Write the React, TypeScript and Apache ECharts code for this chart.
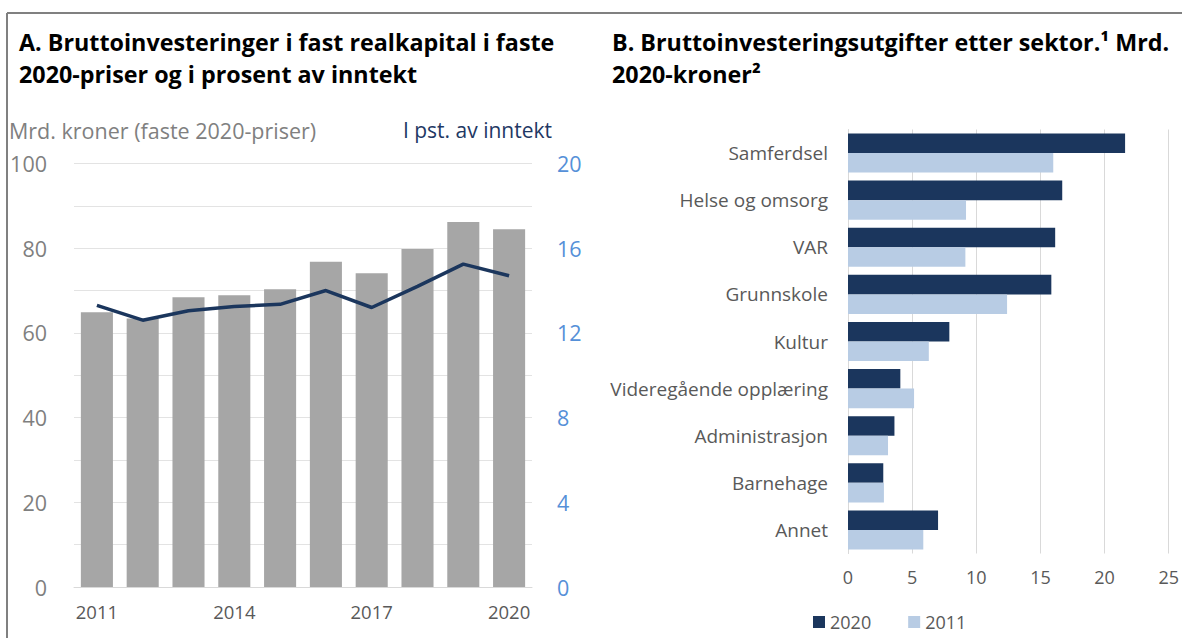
import React, { useEffect, useRef } from "react";
import * as echarts from "echarts";

const years = ["2011", "2012", "2013", "2014", "2015", "2016", "2017", "2018", "2019", "2020"];
const investMrd = [64.9, 63.4, 68.4, 68.9, 70.3, 76.8, 74.1, 79.8, 86.2, 84.5];
const investPct = [13.3, 12.6, 13.05, 13.25, 13.35, 14.0, 13.2, 14.2, 15.25, 14.7];

const sectors = [
  "Samferdsel",
  "Helse og omsorg",
  "VAR",
  "Grunnskole",
  "Kultur",
  "Videregående opplæring",
  "Administrasjon",
  "Barnehage",
  "Annet",
];
const sector2020 = [21.6, 16.7, 16.15, 15.85, 7.9, 4.08, 3.62, 2.75, 7.02];
const sector2011 = [16.0, 9.2, 9.15, 12.4, 6.3, 5.15, 3.12, 2.8, 5.87];

const FONT = "Open Sans";
const NAVY = "#1b365d";
const LIGHT = "#b8cce4";
const GREY_TXT = "#595959";
const TITLE_SIZE = 23.3;

export default function App() {
  const ref = useRef<HTMLDivElement>(null);
  useEffect(() => {
    if (!ref.current) return;
    const chart = echarts.init(ref.current, undefined, { renderer: "svg" });
    chart.setOption({
      animation: false,
      backgroundColor: "#ffffff",
      textStyle: { fontFamily: FONT },
      graphic: [
        { type: "line", shape: { x1: 7, y1: 13, x2: 1182, y2: 13 }, style: { stroke: "#808080", lineWidth: 2 } },
        { type: "line", shape: { x1: 7, y1: 13, x2: 7, y2: 638 }, style: { stroke: "#808080", lineWidth: 2 } },
        {
          type: "text", left: 19, top: 30,
          style: { text: "A. Bruttoinvesteringer i fast realkapital i faste", fontFamily: FONT, fontWeight: "bold", fontSize: TITLE_SIZE, fill: "#000" },
        },
        {
          type: "text", left: 19, top: 62,
          style: { text: "2020-priser og i prosent av inntekt", fontFamily: FONT, fontWeight: "bold", fontSize: TITLE_SIZE, fill: "#000" },
        },
        {
          type: "text", left: 612, top: 30,
          style: { text: "B. Bruttoinvesteringsutgifter etter sektor.¹ Mrd.", fontFamily: FONT, fontWeight: "bold", fontSize: TITLE_SIZE, fill: "#000" },
        },
        {
          type: "text", left: 612, top: 62,
          style: { text: "2020-kroner²", fontFamily: FONT, fontWeight: "bold", fontSize: TITLE_SIZE, fill: "#000" },
        },
        {
          type: "text", left: 9, top: 119,
          style: { text: "Mrd. kroner (faste 2020-priser)", fontFamily: FONT, fontSize: 21.5, fill: "#808080" },
        },
        {
          type: "text", right: 1182 - 552, top: 119,
          style: { text: "I pst. av inntekt", fontFamily: FONT, fontSize: 21, fill: "#1f3864" },
        },
      ],
      grid: [
        { left: 74, top: 163.5, width: 458, height: 423.5 },
        { left: 848, top: 129.5, width: 326.5, height: 424 },
      ],
      legend: {
        data: ["2020", "2011"],
        left: 813,
        top: 613,
        padding: 0,
        icon: "rect",
        itemWidth: 12,
        itemHeight: 12,
        itemGap: 37,
        textStyle: { color: GREY_TXT, fontSize: 18, fontFamily: FONT },
      },
      xAxis: [
        {
          type: "category",
          gridIndex: 0,
          data: years,
          axisTick: { show: false },
          axisLine: { lineStyle: { color: "#d9d9d9" } },
          axisLabel: { interval: 2, color: GREY_TXT, fontSize: 18.5, margin: 15, fontFamily: FONT },
        },
        {
          type: "value",
          gridIndex: 1,
          min: 0,
          max: 25,
          interval: 5,
          axisLine: { show: false },
          axisTick: { show: false },
          splitLine: { lineStyle: { color: "#d9d9d9" } },
          axisLabel: { color: GREY_TXT, fontSize: 18, margin: 14, fontFamily: FONT },
        },
      ],
      yAxis: [
        {
          type: "value",
          gridIndex: 0,
          min: 0,
          max: 100,
          interval: 10,
          axisLine: { show: false },
          axisTick: { show: false },
          splitLine: { lineStyle: { color: "#e3e3e3" } },
          axisLabel: {
            color: "#7f7f7f",
            fontSize: 21.5,
            margin: 27,
            fontFamily: FONT,
            formatter: (v: number) => (v % 20 === 0 ? String(v) : ""),
          },
        },
        {
          type: "value",
          gridIndex: 0,
          position: "right",
          min: 0,
          max: 20,
          interval: 2,
          axisLine: { show: false },
          axisTick: { show: false },
          splitLine: { show: false },
          axisLabel: {
            color: "#5590d8",
            fontSize: 21.5,
            margin: 25,
            fontFamily: FONT,
            formatter: (v: number) => (v % 4 === 0 ? String(v) : ""),
          },
        },
        {
          type: "category",
          gridIndex: 1,
          data: sectors,
          inverse: true,
          axisTick: { show: false },
          axisLine: { lineStyle: { color: "#d9d9d9" } },
          axisLabel: { color: GREY_TXT, fontSize: 19, margin: 20, fontFamily: FONT },
        },
      ],
      series: [
        {
          name: "Mrd. kroner",
          type: "bar",
          xAxisIndex: 0,
          yAxisIndex: 0,
          data: investMrd,
          barCategoryGap: "30%",
          itemStyle: { color: "#a6a6a6" },
        },
        {
          name: "I pst. av inntekt",
          type: "line",
          xAxisIndex: 0,
          yAxisIndex: 1,
          data: investPct,
          symbol: "none",
          lineStyle: { color: NAVY, width: 3.5 },
        },
        {
          name: "2020",
          type: "bar",
          xAxisIndex: 1,
          yAxisIndex: 2,
          data: sector2020,
          barGap: "0%",
          barCategoryGap: "17%",
          itemStyle: { color: NAVY },
        },
        {
          name: "2011",
          type: "bar",
          xAxisIndex: 1,
          yAxisIndex: 2,
          data: sector2011,
          barGap: "0%",
          barCategoryGap: "17%",
          itemStyle: { color: LIGHT },
        },
      ],
    });
    return () => chart.dispose();
  }, []);
  return (
    <div
      ref={ref}
      style={{ position: "fixed", left: 0, top: 0, width: 1182, height: 638 }}
    />
  );
}
